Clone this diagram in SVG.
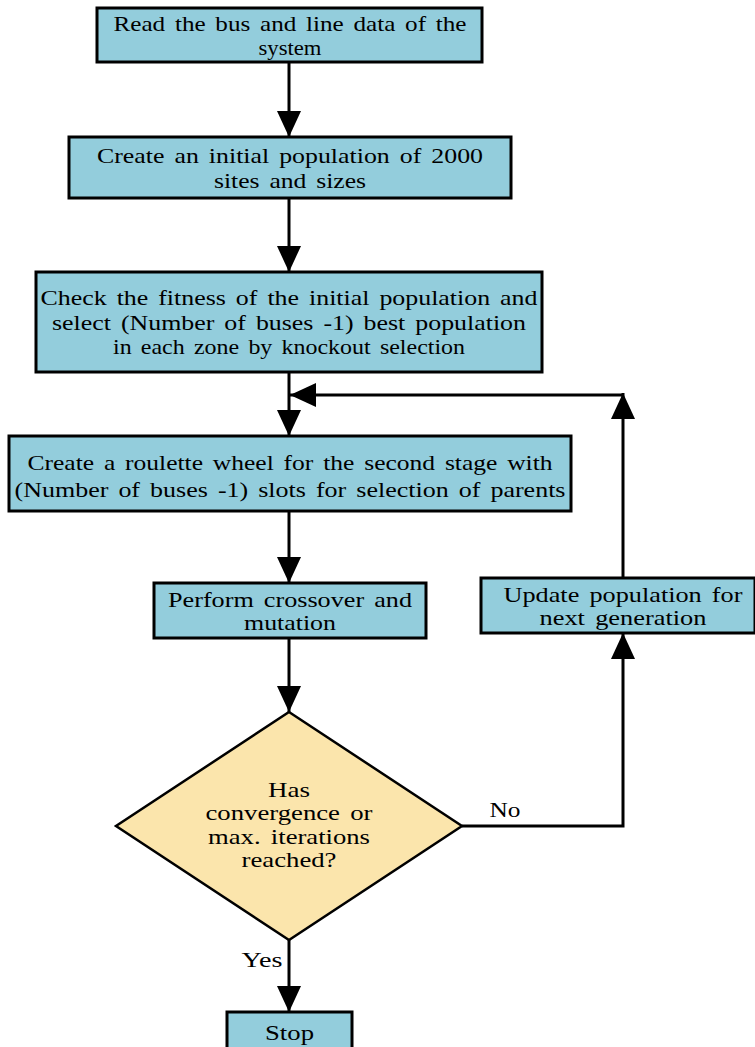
<svg xmlns="http://www.w3.org/2000/svg" width="755" height="1047" viewBox="0 0 755 1047">
<defs>
<style>
.box{fill:#93CDDC;stroke:#000;stroke-width:3}
.dec{fill:#FBE5AC;stroke:#000;stroke-width:2.5}
.t{font-family:"Liberation Serif","Times New Roman",serif;font-size:22px;word-spacing:3px;fill:#000;text-anchor:middle}
.l{fill:none;stroke:#000;stroke-width:3}
</style>
<marker id="a" viewBox="0 0 26 24" refX="26" refY="12" markerWidth="26" markerHeight="24" markerUnits="userSpaceOnUse" orient="auto">
<path d="M0,0 L26,12 L0,24 z" fill="#000"/>
</marker>
</defs>
<g id="connectors">
<line class="l" x1="289" y1="62" x2="289" y2="137" marker-end="url(#a)"/>
<line class="l" x1="289" y1="198" x2="289" y2="272" marker-end="url(#a)"/>
<line class="l" x1="289" y1="372" x2="289" y2="436" marker-end="url(#a)"/>
<line class="l" x1="289" y1="511" x2="289" y2="583" marker-end="url(#a)"/>
<line class="l" x1="289" y1="638" x2="289" y2="712" marker-end="url(#a)"/>
<line class="l" x1="289" y1="940" x2="289" y2="1012" marker-end="url(#a)"/>
<polyline class="l" points="462,826 623,826 623,633" marker-end="url(#a)"/>
<line class="l" x1="623" y1="578" x2="623" y2="393" marker-end="url(#a)"/>
<line class="l" x1="623" y1="395" x2="290" y2="395" marker-end="url(#a)"/>
<text class="t" x="505" y="817" textLength="31" lengthAdjust="spacingAndGlyphs">No</text>
<text class="t" x="262" y="967" textLength="41" lengthAdjust="spacingAndGlyphs">Yes</text>
</g>
<g id="n1">
<rect class="box" x="97" y="8" width="385" height="54"/>
<text class="t" x="290" y="31" textLength="353" lengthAdjust="spacingAndGlyphs">Read the bus and line data of the</text>
<text class="t" x="290" y="55" textLength="63" lengthAdjust="spacingAndGlyphs">system</text>
</g>
<g id="n2">
<rect class="box" x="69" y="137" width="442" height="61"/>
<text class="t" x="290" y="163" textLength="386" lengthAdjust="spacingAndGlyphs">Create an initial population of 2000</text>
<text class="t" x="290" y="188" textLength="152" lengthAdjust="spacingAndGlyphs">sites and sizes</text>
</g>
<g id="n3">
<rect class="box" x="36" y="272" width="506" height="100"/>
<text class="t" x="289" y="305" textLength="497" lengthAdjust="spacingAndGlyphs">Check the fitness of the initial population and</text>
<text class="t" x="289" y="330" textLength="474" lengthAdjust="spacingAndGlyphs">select (Number of buses -1) best population</text>
<text class="t" x="289" y="354" textLength="352" lengthAdjust="spacingAndGlyphs">in each zone by knockout selection</text>
</g>
<g id="n4">
<rect class="box" x="9" y="436" width="562" height="75"/>
<text class="t" x="290" y="470" textLength="525" lengthAdjust="spacingAndGlyphs">Create a roulette wheel for the second stage with</text>
<text class="t" x="290" y="497" textLength="551" lengthAdjust="spacingAndGlyphs">(Number of buses -1) slots for selection of parents</text>
</g>
<g id="n5">
<rect class="box" x="154" y="583" width="272" height="55"/>
<text class="t" x="290" y="607" textLength="244" lengthAdjust="spacingAndGlyphs">Perform crossover and</text>
<text class="t" x="290" y="630" textLength="92" lengthAdjust="spacingAndGlyphs">mutation</text>
</g>
<g id="n6">
<rect class="box" x="481" y="578" width="274" height="55"/>
<text class="t" x="623" y="602" textLength="239" lengthAdjust="spacingAndGlyphs">Update population for</text>
<text class="t" x="623" y="625" textLength="167" lengthAdjust="spacingAndGlyphs">next generation</text>
</g>
<g id="n7">
<polygon class="dec" points="289,712 462,826 289,940 116,826"/>
<text class="t" x="289" y="797" textLength="42" lengthAdjust="spacingAndGlyphs">Has</text>
<text class="t" x="289" y="820" textLength="167" lengthAdjust="spacingAndGlyphs">convergence or</text>
<text class="t" x="289" y="844" textLength="162" lengthAdjust="spacingAndGlyphs">max. iterations</text>
<text class="t" x="289" y="867" textLength="95" lengthAdjust="spacingAndGlyphs">reached?</text>
</g>
<g id="n8">
<rect class="box" x="227" y="1012" width="125" height="40"/>
<text class="t" x="289.5" y="1040" textLength="49" lengthAdjust="spacingAndGlyphs">Stop</text>
</g>
</svg>
